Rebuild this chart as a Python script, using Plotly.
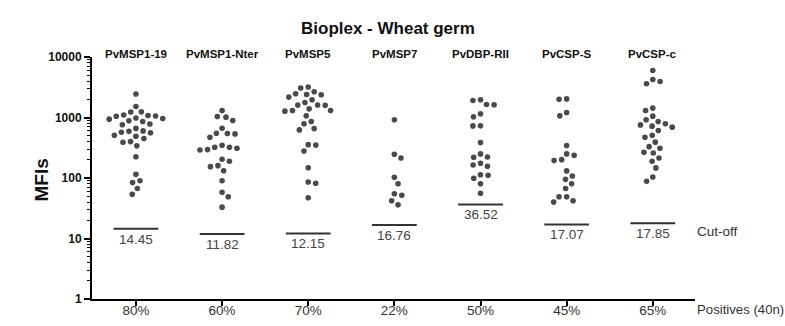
import numpy as np
import plotly.graph_objects as go

# ---------------- data ----------------
antigens = ["PvMSP1-19", "PvMSP1-Nter", "PvMSP5", "PvMSP7", "PvDBP-RII", "PvCSP-S", "PvCSP-c"]
positives = ["80%", "60%", "70%", "22%", "50%", "45%", "65%"]
cutoffs = [14.45, 11.82, 12.15, 16.76, 36.52, 17.07, 17.85]
y_tick_vals = [1, 10, 100, 1000, 10000]
y_tick_text = ["1", "10", "100", "1000", "10000"]

pvmsp1_19 = [2450, 1520, 1240, 1230, 1100, 1080, 1060, 1050, 980, 960, 940, 880, 860, 780,
             760, 660, 600, 590, 570, 560, 510, 490, 450, 400, 390, 340, 225, 115, 90, 84, 67, 54]
pvmsp1_nter = [1300, 1037, 1014, 890, 666, 550, 542, 536, 472, 348, 323, 323, 311, 295, 290,
               204, 189, 160, 154, 132, 90, 58, 49, 33]
pvmsp5 = [3184, 3063, 2661, 2466, 2400, 2380, 2174, 1960, 1769, 1610, 1602, 1595, 1391, 1303,
          1300, 1273, 1065, 857, 785, 656, 624, 356, 350, 280, 148, 86, 82, 47]
pvmsp7 = [914, 247, 214, 103, 80, 55, 52, 42, 36]
pvdbp_rii = [1960, 1910, 1640, 1621, 1148, 1025, 728, 726, 385, 250, 223, 220, 175, 164, 156,
             113, 111, 99, 80, 56]
pvcsp_s = [2030, 2000, 1208, 1065, 343, 250, 238, 201, 194, 131, 108, 95, 80, 67, 49, 49, 42, 40]
pvcsp_c = [5998, 4255, 3946, 3613, 1429, 1303, 1052, 914, 857, 785, 755, 719, 692, 608, 510,
           472, 391, 330, 311, 267, 259, 214, 189, 147, 104, 88]
groups = [pvmsp1_19, pvmsp1_nter, pvmsp5, pvmsp7, pvdbp_rii, pvcsp_s, pvcsp_c]

# ---------------- layout geometry ----------------
W, H = 785, 326
ML, MR, MT, MB = 92, 90, 57, 27
PLOT_W = W - ML - MR
PLOT_H = H - MT - MB
X_RANGE = [-0.51, 6.49]
Y_RANGE = [0, 4]
PX_UNIT = PLOT_W / (X_RANGE[1] - X_RANGE[0])
PX_DEC = PLOT_H / (Y_RANGE[1] - Y_RANGE[0])
DOT_COLOR = "#4a4a4a"
FONT = "Liberation Sans, Arial, sans-serif"


def swarm_offsets(vals, d=7.6):
    """Classic beeswarm layout computed in pixel space; returns offsets in x units."""
    ys = np.log10(np.asarray(vals, dtype=float)) * PX_DEC
    order = np.argsort(-ys, kind="stable")
    placed = []
    xs = np.zeros(len(ys))
    flip = False
    for idx in order:
        y = ys[idx]
        near = [(px, py) for px, py in placed if abs(py - y) < d]
        cands = [0.0]
        for px, py in near:
            dx = np.sqrt(max(d * d - (py - y) ** 2, 0.0))
            cands += [px + dx, px - dx]
        cands.sort(key=lambda c: (round(abs(c), 4), (c < 0) != flip))
        for c in cands:
            if all((c - px) ** 2 + (y - py) ** 2 >= d * d - 1e-6 for px, py in near):
                xs[idx] = c
                placed.append((c, y))
                break
        flip = not flip
    return xs / PX_UNIT


def py_paper(px_from_top):
    return (H - MB - px_from_top) / PLOT_H


fig = go.Figure()

for i, vals in enumerate(groups):
    offs = swarm_offsets(vals)
    fig.add_trace(go.Scatter(
        x=i + offs, y=vals, mode="markers",
        marker=dict(size=5.6, color=DOT_COLOR),
        showlegend=False, hoverinfo="y"))
    # cut-off line
    fig.add_trace(go.Scatter(
        x=[i - 0.26, i + 0.26], y=[cutoffs[i], cutoffs[i]], mode="lines",
        line=dict(color="#333333", width=2), showlegend=False, hoverinfo="skip"))
    fig.add_annotation(x=i, y=np.log10(cutoffs[i]), xref="x", yref="y",
                       text=f"{cutoffs[i]:.2f}", showarrow=False, yanchor="top", yshift=-1,
                       font=dict(size=13.5, color="#444444", family=FONT))
    fig.add_annotation(x=i, y=py_paper(54), xref="x", yref="paper", text=antigens[i],
                       showarrow=False, yanchor="middle",
                       font=dict(size=11.5, color="#111111", family=FONT, weight="bold"))

fig.add_annotation(x=(388 - ML) / PLOT_W, y=py_paper(28), xref="paper", yref="paper",
                   text="Bioplex - Wheat germ", showarrow=False, yanchor="middle",
                   font=dict(size=17, color="#111111", family=FONT, weight="bold"))
fig.add_annotation(x=(28 - ML) / PLOT_W, y=py_paper(180), xref="paper", yref="paper",
                   text="MFIs", textangle=-90, showarrow=False,
                   font=dict(size=19, color="#111111", family=FONT, weight="bold"))
fig.add_annotation(x=1, xshift=0, y=py_paper(231), xref="paper", yref="paper",
                   text="Cut-off", showarrow=False, xanchor="left", yanchor="middle",
                   font=dict(size=13.5, color="#333333", family=FONT))
fig.add_annotation(x=1, xshift=0, y=py_paper(309), xref="paper", yref="paper",
                   text="Positives (40n)", showarrow=False, xanchor="left", yanchor="middle",
                   font=dict(size=13.2, color="#333333", family=FONT))

fig.update_layout(
    width=W, height=H, margin=dict(l=ML, r=MR, t=MT, b=MB, autoexpand=False),
    paper_bgcolor="white", plot_bgcolor="white",
    font=dict(family=FONT),
    xaxis=dict(range=X_RANGE, tickmode="array", tickvals=list(range(len(antigens))),
               ticktext=positives, showline=True, linecolor="black", linewidth=2,
               ticks="outside", ticklen=5, tickwidth=2, tickcolor="black",
               ticklabelstandoff=-7,
               showgrid=False, zeroline=False, automargin=False,
               tickfont=dict(size=13.5, color="#333333", family=FONT)),
    yaxis=dict(type="log", range=Y_RANGE, tickmode="array", tickvals=y_tick_vals,
               ticktext=y_tick_text, showline=True, linecolor="black", linewidth=2,
               ticks="outside", ticklen=6, tickwidth=2, tickcolor="black",
               showgrid=False, zeroline=False, automargin=False,
               minor=dict(ticks="outside", ticklen=3, tickwidth=1, tickcolor="black",
                          dtick="D1", showgrid=False),
               tickfont=dict(size=12, color="#111111", family=FONT, weight="bold")),
)

fig.write_html("out.html", config={"displayModeBar": False},
               post_script="document.body.style.margin='0';document.body.style.overflow='hidden';")
